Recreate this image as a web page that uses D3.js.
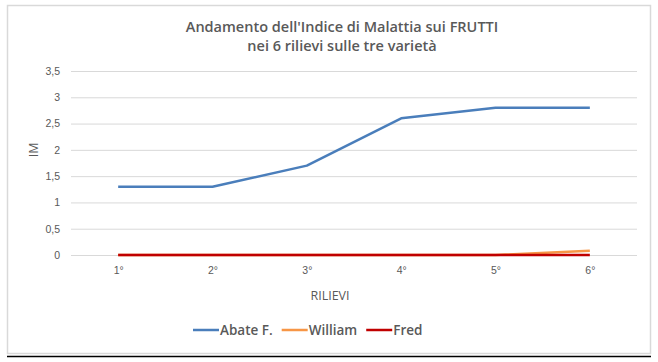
<!DOCTYPE html>
<html>
<head>
<meta charset="utf-8">
<script src="https://cdn.jsdelivr.net/npm/d3@7"></script>
<style>
  body { margin: 0; background: #fff; }
  svg { display: block; font-family: "Open Sans", sans-serif; }
</style>
</head>
<body>
<div id="chart"></div>
<script>
// data
var rilievi = ["1°", "2°", "3°", "4°", "5°", "6°"];
var abate = [1.3, 1.3, 1.7, 2.6, 2.8, 2.8];
var william = [0, 0, 0, 0, 0, 0.08];
var fred = [0, 0, 0, 0, 0, 0];
var yTicks = [0, 0.5, 1, 1.5, 2, 2.5, 3, 3.5];
var seriesNames = ["Abate F.", "William", "Fred"];
var colors = ["#4a7ebb", "#f79646", "#c00000"];

var W = 658, H = 362;
var margin = {top: 71, right: 21, bottom: 107, left: 71},
  width = W - margin.left - margin.right,
  height = H - margin.top - margin.bottom;

var svg = d3.select("#chart").append("svg")
  .attr("width", W).attr("height", H);

// chart frame + bottom rule
svg.append("rect").attr("x", 7.5).attr("y", 5.5).attr("width", 643).attr("height", 348)
  .attr("fill", "#fff").attr("stroke", "#d9d9d9").attr("stroke-width", 1.5);
svg.append("line").attr("x1", 7).attr("x2", 651).attr("y1", 356.5).attr("y2", 356.5)
  .attr("stroke", "#000").attr("stroke-width", 1.5);

// title
var title = svg.append("text").attr("text-anchor", "middle")
  .attr("fill", "#595959").attr("font-size", 14.5).attr("font-weight", 600);
title.append("tspan").attr("x", 342).attr("y", 32).text("Andamento dell'Indice di Malattia sui FRUTTI");
title.append("tspan").attr("x", 342).attr("y", 51).text("nei 6 rilievi sulle tre varietà");

var g = svg.append("g").attr("transform", "translate(" + margin.left + "," + margin.top + ")");

var x = d3.scalePoint().domain(rilievi).range([0, width]).padding(0.5);
var y = d3.scaleLinear().domain([0, 3.5]).range([height, 0]);

var fmt = function(d) { return String(d).replace(".", ","); };

// gridlines + y ticks
g.append("g")
  .call(d3.axisLeft(y).tickValues(yTicks).tickSize(-width).tickFormat(fmt).tickPadding(11))
  .call(function(a) {
    a.select(".domain").remove();
    a.selectAll(".tick line").attr("stroke", "#d9d9d9");
    a.selectAll(".tick text").attr("fill", "#595959").attr("font-size", 10.5);
  });

g.append("g")
  .attr("transform", "translate(0," + height + ")")
  .call(d3.axisBottom(x).tickSize(0).tickPadding(12))
  .call(function(a) {
    a.select(".domain").remove();
    a.selectAll(".tick text").attr("fill", "#595959").attr("font-size", 10.5);
  });

// axis titles
svg.append("text").attr("x", 330).attr("y", 300).attr("text-anchor", "middle")
  .attr("fill", "#595959").attr("font-size", 12.5).text("RILIEVI");
svg.append("text").attr("transform", "translate(38,150) rotate(-90)").attr("text-anchor", "middle")
  .attr("fill", "#595959").attr("font-size", 12.5).text("IM");

// lines
var line = d3.line()
  .x(function(d, i) { return x(rilievi[i]); })
  .y(function(d) { return y(d); });

[abate, william, fred].forEach(function(s, i) {
  g.append("path").datum(s)
    .attr("fill", "none")
    .attr("stroke", colors[i])
    .attr("stroke-width", 2.5)
    .attr("stroke-linejoin", "round")
    .attr("d", line);
});

// legend
var leg = svg.append("g").attr("transform", "translate(0,330)");
var lx = 193;
seriesNames.forEach(function(n, i) {
  var it = leg.append("g").attr("transform", "translate(" + lx + ",0)");
  it.append("line").attr("x1", 0).attr("x2", 26).attr("y1", 0).attr("y2", 0)
    .attr("stroke", colors[i]).attr("stroke-width", 2.5);
  var t = it.append("text").attr("x", 27).attr("y", 5).attr("fill", "#595959")
    .attr("font-size", 13.5).attr("font-weight", 600).text(n);
  lx += 27 + t.node().getComputedTextLength() + 9;
});
</script>
</body>
</html>
